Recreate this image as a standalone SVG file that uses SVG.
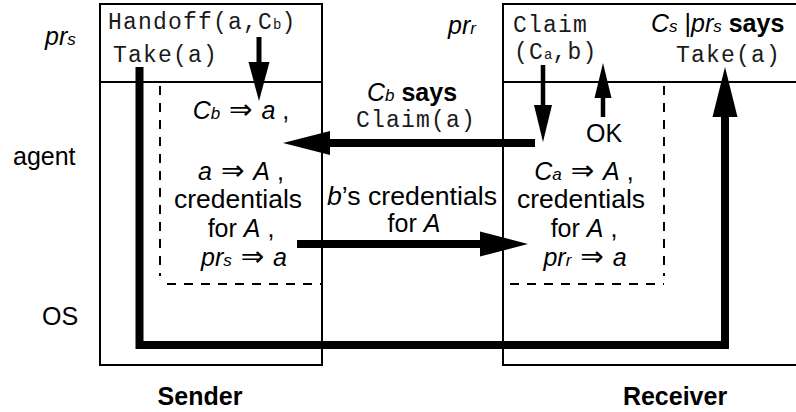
<svg xmlns="http://www.w3.org/2000/svg" width="796" height="412" viewBox="0 0 796 412">
<style>
.box{fill:none;stroke:#000;stroke-width:2}
.dash{fill:none;stroke:#000;stroke-width:2;stroke-dasharray:9 8}
.thick{fill:none;stroke:#000;stroke-width:8;stroke-linejoin:miter}
.shaft{fill:none;stroke:#000}
.head{fill:#000;stroke:none}
.s{font-family:"Liberation Sans",Arial,sans-serif;font-size:25px;fill:#000}
.m{font-family:"Liberation Mono","Courier New",monospace;font-size:23px;letter-spacing:1.2px;fill:#1a1a1a}
.i{font-style:italic}
.n{font-style:normal}
.b{font-weight:bold}
.sub{font-size:17px}
.msub{font-size:14px;letter-spacing:0}
.sym{font-family:"DejaVu Sans",sans-serif;font-style:normal;font-size:28px}
</style>
<rect width="796" height="412" fill="#fff"/>

<g id="row-labels">
  <text class="s i" x="45" y="45">pr<tspan class="sub">s</tspan></text>
  <text class="s i" x="448" y="34">pr<tspan class="sub">r</tspan></text>
  <text class="s" x="13" y="165">agent</text>
  <text class="s" x="42" y="325">OS</text>
</g>

<g id="sender">
  <rect class="box" x="100" y="4" width="222" height="361"/>
  <line class="box" x1="100" y1="82" x2="322" y2="82"/>
  <path class="dash" d="M160,86 V276"/>
  <path class="dash" d="M167,284 H322"/>
  <text class="m" x="108" y="29">Handoff(a,C<tspan class="msub">b</tspan>)</text>
  <text class="m" x="113" y="62">Take(a)</text>
  <text class="s i" x="241" y="119" text-anchor="middle">C<tspan class="sub">b</tspan><tspan class="sym"> ⇒ </tspan>a<tspan class="n"> ,</tspan></text>
  <text class="s i" x="241" y="180" text-anchor="middle">a<tspan class="sym"> ⇒ </tspan>A<tspan class="n"> ,</tspan></text>
  <text class="s" x="238" y="208" text-anchor="middle" textLength="128" lengthAdjust="spacingAndGlyphs">credentials</text>
  <text class="s" x="241" y="237" text-anchor="middle">for <tspan class="i">A</tspan> ,</text>
  <text class="s i" x="244" y="266" text-anchor="middle">pr<tspan class="sub">s</tspan><tspan class="sym"> ⇒ </tspan>a</text>
  <text class="s b" x="200" y="405" text-anchor="middle">Sender</text>
</g>

<g id="receiver">
  <rect class="box" x="503" y="4" width="310" height="361"/>
  <line class="box" x1="503" y1="82" x2="796" y2="82"/>
  <path class="dash" d="M664,86 V276"/>
  <path class="dash" d="M510,284 H664"/>
  <text class="m" x="513" y="32">Claim</text>
  <text class="m" x="514" y="59">(C<tspan class="msub">a</tspan>,b)</text>
  <text class="s i" x="651" y="32">C<tspan class="sub">s</tspan><tspan class="n"> |</tspan>pr<tspan class="sub">s</tspan><tspan class="n b"> says</tspan></text>
  <text class="m" x="676" y="62">Take(a)</text>
  <text class="s" x="604" y="142" text-anchor="middle">OK</text>
  <text class="s i" x="584" y="180" text-anchor="middle">C<tspan class="sub">a</tspan><tspan class="sym"> ⇒ </tspan>A<tspan class="n"> ,</tspan></text>
  <text class="s" x="581" y="208" text-anchor="middle" textLength="128" lengthAdjust="spacingAndGlyphs">credentials</text>
  <text class="s" x="584" y="237" text-anchor="middle">for <tspan class="i">A</tspan> ,</text>
  <text class="s i" x="585" y="266" text-anchor="middle">pr<tspan class="sub">r</tspan><tspan class="sym"> ⇒ </tspan>a</text>
  <text class="s b" x="675" y="405" text-anchor="middle">Receiver</text>
</g>

<g id="messages">
  <text class="s" x="412" y="101" text-anchor="middle"><tspan class="i">C</tspan><tspan class="sub i">b</tspan><tspan class="b"> says</tspan></text>
  <text class="m" x="416" y="127" text-anchor="middle">Claim(a)</text>
  <text class="s" x="412" y="205" text-anchor="middle" textLength="170" lengthAdjust="spacingAndGlyphs"><tspan class="i">b</tspan>’s credentials</text>
  <text class="s" x="414" y="232" text-anchor="middle">for <tspan class="i">A</tspan></text>
</g>

<g id="connectors">
  <path class="thick" d="M139.5,67 V345 H725 V115"/>
  <polygon class="head" points="725,67 712.5,117 737.5,117"/>
  <line class="shaft" x1="259" y1="37" x2="259" y2="63" stroke-width="5"/>
  <polygon class="head" points="259,101 248.5,62 269.5,62"/>
  <line class="shaft" x1="543" y1="65" x2="543" y2="106" stroke-width="4.5"/>
  <polygon class="head" points="543,142 534,105 552,105"/>
  <line class="shaft" x1="603" y1="117" x2="603" y2="97" stroke-width="4.5"/>
  <polygon class="head" points="603,63 594.5,98 611.5,98"/>
  <line class="shaft" x1="535" y1="143" x2="328" y2="143" stroke-width="8"/>
  <polygon class="head" points="283,143 330,131 330,155"/>
  <line class="shaft" x1="297" y1="244" x2="482" y2="244" stroke-width="8"/>
  <polygon class="head" points="528,244 480,231.5 480,256.5"/>
</g>
</svg>
